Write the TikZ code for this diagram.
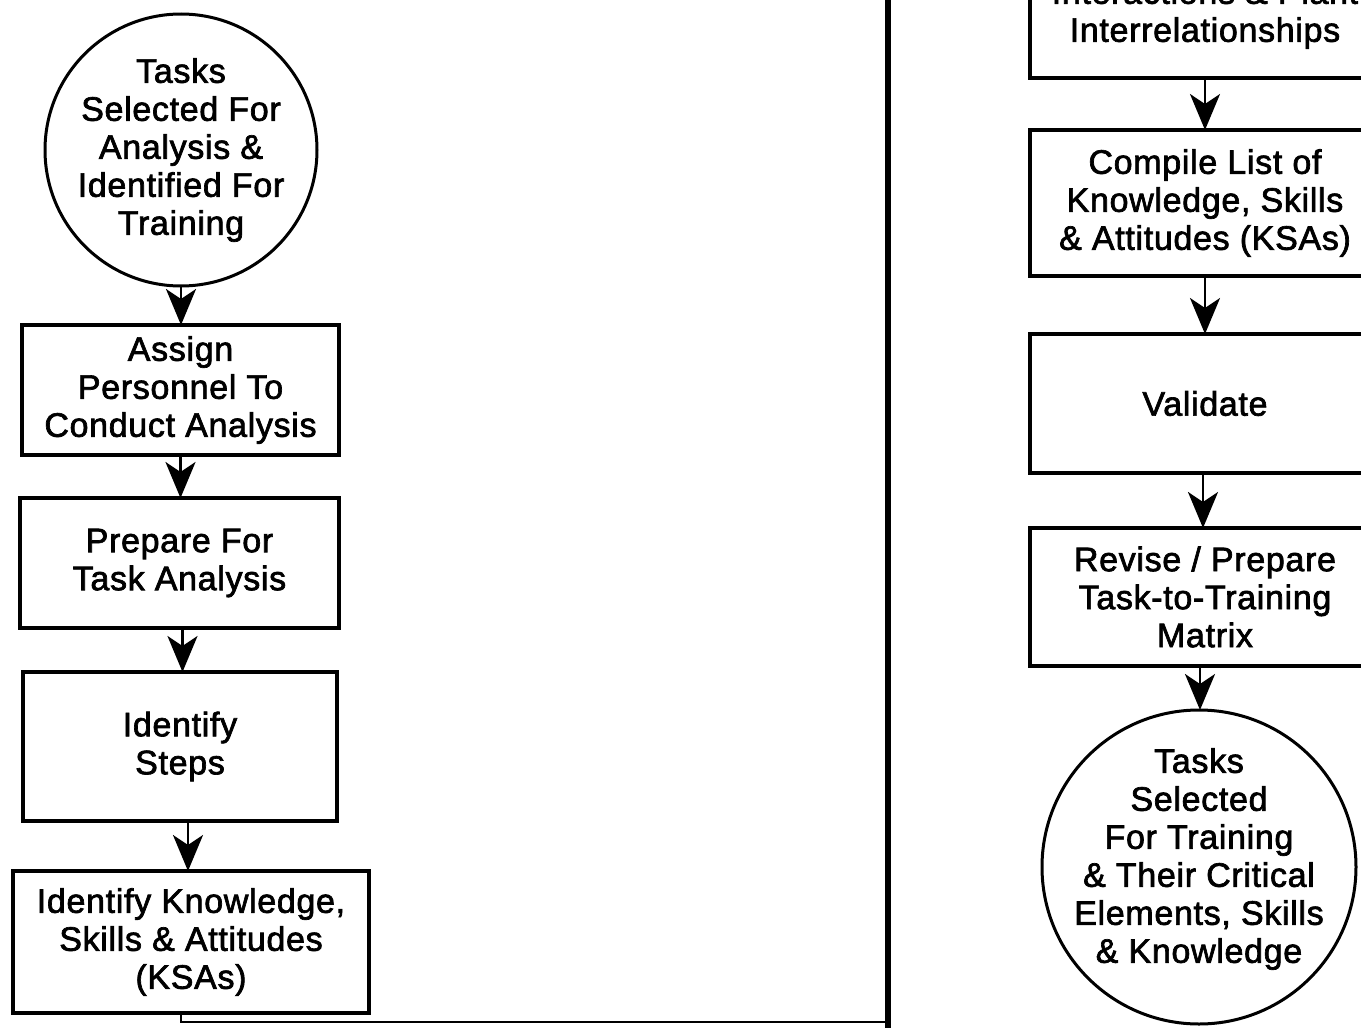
\documentclass[tikz,border=0pt]{standalone}
\usepackage{fontspec}
\newfontfamily\lbl{Liberation Sans}[FakeBold=2,LetterSpace=2]
\usetikzlibrary{arrows.meta}
\begin{document}
\begin{tikzpicture}[x=0.5pt,y=-0.5pt,
  every node/.style={font=\lbl\fontsize{17pt}{19pt}\selectfont, align=center, inner sep=0pt, outer sep=0pt},
  stepbox/.style={draw, line width=2pt, rectangle},
  endpoint/.style={draw, line width=1.5pt, circle, inner sep=-12pt},
  arr/.style={line width=1.4pt, -{Stealth[length=18pt,width=15pt,inset=5pt]}},
  link/.style={line width=1.2pt},
  spine/.style={line width=3pt}]
\useasboundingbox (0,0) rectangle (1361,1028);
\clip (0,0) rectangle (1361,1028);

% left column
\node[endpoint, minimum size=136pt] (c1) at (181,150)
  {Tasks\\Selected For\\Analysis \&\\Identified For\\Training};
\node[stepbox, minimum width=158.5pt, minimum height=65pt] (b1) at (180.5,390)
  {Assign\\Personnel To\\Conduct Analysis};
\node[stepbox, minimum width=159.5pt, minimum height=65pt] (b2) at (179.5,563)
  {Prepare For\\Task Analysis};
\node[stepbox, minimum width=157pt, minimum height=74.5pt] (b3) at (180,746.5)
  {Identify\\Steps};
\node[stepbox, minimum width=178pt, minimum height=71pt] (b4) at (191,942)
  {Identify Knowledge,\\Skills \& Attitudes\\(KSAs)};

\draw[arr] (c1.south) -- (c1.south |- b1.north);
\draw[arr] (b1.south) -- (b1.south |- b2.north);
\draw[arr] ([xshift=1.5pt]b2.south) -- ([xshift=1.5pt]b2.south |- b3.north);
\draw[arr] ([xshift=4pt]b3.south) -- ([xshift=4pt]b3.south |- b4.north);

% return path to the second column
\coordinate (join) at (888,1022);
\coordinate (ltop) at (888,-10);
\coordinate (lbot) at (888,1040);
\draw[link] (b4.south -| c1.center) |- (join);
\draw[spine] (lbot) -- (ltop);

% right column
\node[stepbox, minimum width=175pt, minimum height=64pt] (r0) at (1205,14)
  {Interactions \& Plant\\Interrelationships};
\node[stepbox, minimum width=175pt, minimum height=73pt] (r1) at (1205,203)
  {Compile List of\\Knowledge, Skills\\\& Attitudes (KSAs)};
\node[stepbox, minimum width=175pt, minimum height=69.5pt] (r2) at (1205,403.5)
  {Validate};
\node[stepbox, minimum width=175pt, minimum height=69pt] (r3) at (1205,597)
  {Revise / Prepare\\Task-to-Training\\Matrix};
\node[endpoint, minimum size=157pt] (c2) at (1199,867) {};
\node (c2text) at ([yshift=4pt]c2.center)
  {Tasks\\Selected\\For Training\\\& Their Critical\\Elements, Skills\\\& Knowledge};

\draw[arr] (r0.south) -- (r0.south |- r1.north);
\draw[arr] (r1.south) -- (r1.south |- r2.north);
\draw[arr] ([xshift=-1pt]r2.south) -- ([xshift=-1pt]r2.south |- r3.north);
\draw[arr] ([xshift=-2.5pt]r3.south) -- ([xshift=-2.5pt]r3.south |- c2.north);
\end{tikzpicture}
\end{document}
